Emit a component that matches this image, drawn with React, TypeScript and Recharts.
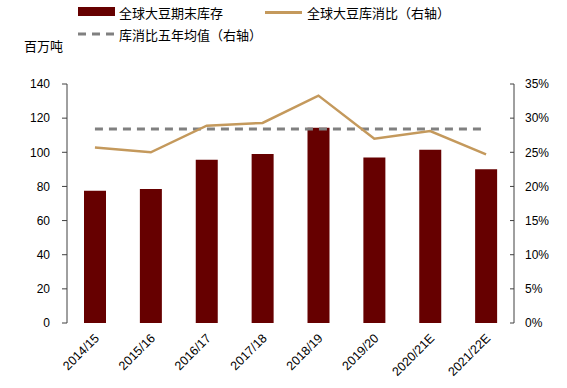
import React from 'react';
import { ComposedChart, Bar, Line, XAxis, YAxis } from 'recharts';

const seasons = ['2014/15', '2015/16', '2016/17', '2017/18', '2018/19', '2019/20', '2020/21E', '2021/22E'];
const endingStocks = [77.5, 78.5, 95.7, 99.0, 114.4, 96.9, 101.5, 90.0];
const stockToUse = [25.7, 25.0, 28.9, 29.3, 33.3, 27.0, 28.1, 24.7];
const fiveYearAvg = [28.4, 28.4, 28.4, 28.4, 28.4, 28.4, 28.4, 28.4];
const leftTicks = [0, 20, 40, 60, 80, 100, 120, 140];
const rightTicks = [0, 5, 10, 15, 20, 25, 30, 35];
const bandTicks = [0, 1, 2, 3, 4, 5, 6, 7, 8];

const data = seasons.map((s, i) => ({
  name: s,
  stock: endingStocks[i],
  ratio: stockToUse[i],
  avg: fiveYearAvg[i],
}));

const BAR = '#660000';
const GOLD = '#C4995C';
const GREY = '#808080';
const AXIS = '#404040';
const FONT = '"Liberation Sans", Arial, "Noto Sans CJK SC", sans-serif';

const XTick = (props: any) => {
  const { x, y, payload } = props;
  const px = x + 5;
  const py = y + 8;
  return (
    <text x={px} y={py} transform={`rotate(-45 ${px} ${py})`} textAnchor="end" fontSize={12.5} fill="#000" fontFamily={FONT}>
      {payload.value}
    </text>
  );
};

const LegendBox = () => (
  <div style={{ position: 'absolute', left: 0, top: 0, width: 567, height: 60, fontFamily: FONT, fontSize: 13, color: '#000' }}>
    <div style={{ position: 'absolute', left: 78, top: 7, width: 37, height: 9, background: BAR }} />
    <div style={{ position: 'absolute', left: 119, top: 3, whiteSpace: 'nowrap' }}>全球大豆期末库存</div>
    <div style={{ position: 'absolute', left: 265, top: 11, width: 37, height: 3, background: GOLD }} />
    <div style={{ position: 'absolute', left: 307, top: 3, whiteSpace: 'nowrap' }}>全球大豆库消比（右轴）</div>
    <svg style={{ position: 'absolute', left: 78, top: 32 }} width={37} height={4}>
      <line x1={0} y1={2} x2={37} y2={2} stroke={GREY} strokeWidth={3} strokeDasharray="8 6" />
    </svg>
    <div style={{ position: 'absolute', left: 119, top: 25, whiteSpace: 'nowrap' }}>库消比五年均值（右轴）</div>
    <div style={{ position: 'absolute', left: 24, top: 36, whiteSpace: 'nowrap' }}>百万吨</div>
  </div>
);

export default function App() {
  return (
    <div style={{ position: 'absolute', left: 0, top: 0, width: 567, height: 388, background: '#fff' }}>
      <ComposedChart width={567} height={388} data={data} margin={{ top: 84, right: 0, bottom: 0, left: 0 }}>
        <XAxis xAxisId="band" type="number" domain={[0, 8]} ticks={bandTicks} tick={false}
          tickSize={-4} height={0} axisLine={{ stroke: AXIS }} tickLine={{ stroke: AXIS }} allowDataOverflow />
        <XAxis dataKey="name" interval={0} height={65} axisLine={false} tickLine={false} tick={<XTick />} />
        <YAxis yAxisId="left" domain={[0, 140]} ticks={leftTicks} width={67} tickSize={5} tickMargin={12}
          axisLine={{ stroke: AXIS }} tickLine={{ stroke: AXIS }}
          tick={{ fontSize: 12, fill: '#000', fontFamily: FONT }} />
        <YAxis yAxisId="right" orientation="right" domain={[0, 35]} ticks={rightTicks} width={53}
          tickSize={-4} tickMargin={15} tickFormatter={(v: number) => `${v}%`}
          axisLine={{ stroke: AXIS }} tickLine={{ stroke: AXIS }}
          tick={{ fontSize: 12, fill: '#000', fontFamily: FONT }} />
        <Bar yAxisId="left" dataKey="stock" fill={BAR} barSize={22} isAnimationActive={false} />
        <Line yAxisId="right" dataKey="avg" stroke={GREY} strokeWidth={3} strokeDasharray="8 6" dot={false} type="linear" isAnimationActive={false} />
        <Line yAxisId="right" dataKey="ratio" stroke={GOLD} strokeWidth={2.5} dot={false} type="linear" isAnimationActive={false} />
      </ComposedChart>
      <LegendBox />
    </div>
  );
}
